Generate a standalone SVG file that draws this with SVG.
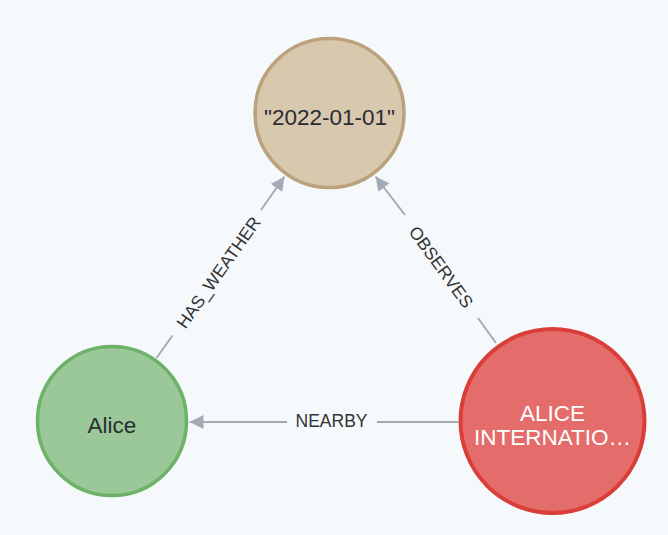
<svg xmlns="http://www.w3.org/2000/svg" width="668" height="535" viewBox="0 0 668 535">
<style>
.edge{stroke:#a5abb6;stroke-width:2;fill:none}
.elabel{font-family:"Liberation Sans",Arial,sans-serif;font-size:17.5px;fill:#333333;text-anchor:middle;dominant-baseline:central}
.nlabel{font-family:"Liberation Sans",Arial,sans-serif;font-size:22.5px;fill:#2a2c34;text-anchor:middle}
.wlabel{font-family:"Liberation Sans",Arial,sans-serif;font-size:22.5px;fill:#ffffff;text-anchor:middle}
</style>
<defs>
<marker id="arr" viewBox="0 0 14 14" refX="14" refY="7" markerWidth="14" markerHeight="14" markerUnits="userSpaceOnUse" orient="auto">
<path d="M0,0 L14,7 L0,14 Z" fill="#a5abb6"/>
</marker>
</defs>
<rect x="0" y="0" width="668" height="535" fill="#f5f9fc"/>
<g id="connectors">
<g id="e-has-weather">
<line class="edge" x1="156.5" y1="358" x2="172.5" y2="335.5"/>
<line class="edge" x1="261" y1="210" x2="284.5" y2="176.5" marker-end="url(#arr)"/>
<text class="elabel" transform="translate(218.5,272.5) rotate(-54.8)">HAS_WEATHER</text>
</g>
<g id="e-observes">
<line class="edge" x1="496" y1="343" x2="478" y2="318"/>
<line class="edge" x1="405" y1="215" x2="375.5" y2="176.5" marker-end="url(#arr)"/>
<text class="elabel" transform="translate(441,267) rotate(54.1)">OBSERVES</text>
</g>
<g id="e-nearby">
<line class="edge" x1="458" y1="422" x2="377" y2="422"/>
<line class="edge" x1="287" y1="422" x2="189.5" y2="422" marker-end="url(#arr)"/>
<text class="elabel" x="331.5" y="421">NEARBY</text>
</g>
</g>
<g id="n-date">
<circle cx="329.5" cy="113" r="74.5" fill="#d8c8ae" stroke="#bba27c" stroke-width="3.5"/>
<text class="nlabel" x="329.5" y="125">"2022-01-01"</text>
</g>
<g id="n-alice">
<circle cx="112" cy="421" r="74.5" fill="#9bc898" stroke="#6cb268" stroke-width="3.5"/>
<text class="nlabel" x="112" y="433">Alice</text>
</g>
<g id="n-alice-intl">
<circle cx="552.5" cy="421" r="92" fill="#e46d6b" stroke="#da3e38" stroke-width="4"/>
<text class="wlabel" x="552.5" y="421">ALICE</text>
<text class="wlabel" x="552.5" y="444.5">INTERNATIO…</text>
</g>
</svg>
